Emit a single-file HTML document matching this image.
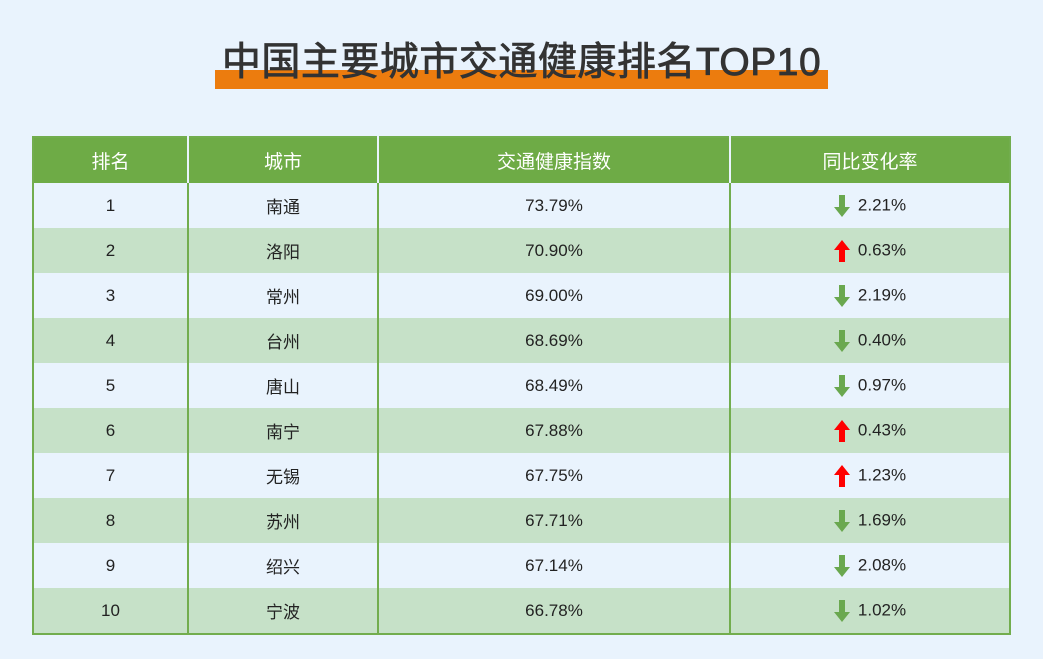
<!DOCTYPE html>
<html><head><meta charset="utf-8"><style>
body{margin:0;width:1043px;height:659px;background:#e9f3fd;font-family:"Liberation Sans","Noto Sans CJK SC",sans-serif;position:relative;overflow:hidden}
.bar{position:absolute;left:215px;top:70px;width:613px;height:19px;background:#ec7c0e}
.title{position:absolute;left:0;width:1043px;top:38px;text-align:center;font-size:39px;font-weight:normal;-webkit-text-stroke:0.8px #333;color:#333;line-height:50px;letter-spacing:0.5px}
table{position:absolute;left:32px;top:136px;width:979px;border-collapse:collapse;border:2px solid #72ad4e}
th{background:#6eab46;color:#fff;font-weight:normal;font-size:19px;height:45px;padding:0;border-left:2px solid #e9f3fd;}
th:first-child{border-left:none}
td{height:45px;padding:0;text-align:center;font-size:17px;color:#222;border-left:2px solid #72ad4e}
td:first-child{border-left:none}
tr:nth-child(odd) td{background:#e9f3fd}
tr:nth-child(even) td{background:#c6e1c8}
.a{display:inline-block;vertical-align:middle;margin-right:8px}
</style></head><body>
<div class="bar"></div>
<div class="title">中国主要城市交通健康排名TOP10</div>
<table>
<colgroup><col style="width:155px"><col style="width:190px"><col style="width:352px"><col></colgroup>
<thead><tr><th>排名</th><th>城市</th><th>交通健康指数</th><th>同比变化率</th></tr></thead>
<tbody>
<tr><td>1</td><td>南通</td><td>73.79%</td><td><svg class="a" width="16" height="22"><path d="M5 0h6v12h5l-8 10-8-10h5z" fill="#6aa84f"/></svg>2.21%</td></tr>
<tr><td>2</td><td>洛阳</td><td>70.90%</td><td><svg class="a" width="16" height="22"><path d="M5 22h6v-12h5l-8-10-8 10h5z" fill="#f00"/></svg>0.63%</td></tr>
<tr><td>3</td><td>常州</td><td>69.00%</td><td><svg class="a" width="16" height="22"><path d="M5 0h6v12h5l-8 10-8-10h5z" fill="#6aa84f"/></svg>2.19%</td></tr>
<tr><td>4</td><td>台州</td><td>68.69%</td><td><svg class="a" width="16" height="22"><path d="M5 0h6v12h5l-8 10-8-10h5z" fill="#6aa84f"/></svg>0.40%</td></tr>
<tr><td>5</td><td>唐山</td><td>68.49%</td><td><svg class="a" width="16" height="22"><path d="M5 0h6v12h5l-8 10-8-10h5z" fill="#6aa84f"/></svg>0.97%</td></tr>
<tr><td>6</td><td>南宁</td><td>67.88%</td><td><svg class="a" width="16" height="22"><path d="M5 22h6v-12h5l-8-10-8 10h5z" fill="#f00"/></svg>0.43%</td></tr>
<tr><td>7</td><td>无锡</td><td>67.75%</td><td><svg class="a" width="16" height="22"><path d="M5 22h6v-12h5l-8-10-8 10h5z" fill="#f00"/></svg>1.23%</td></tr>
<tr><td>8</td><td>苏州</td><td>67.71%</td><td><svg class="a" width="16" height="22"><path d="M5 0h6v12h5l-8 10-8-10h5z" fill="#6aa84f"/></svg>1.69%</td></tr>
<tr><td>9</td><td>绍兴</td><td>67.14%</td><td><svg class="a" width="16" height="22"><path d="M5 0h6v12h5l-8 10-8-10h5z" fill="#6aa84f"/></svg>2.08%</td></tr>
<tr><td>10</td><td>宁波</td><td>66.78%</td><td><svg class="a" width="16" height="22"><path d="M5 0h6v12h5l-8 10-8-10h5z" fill="#6aa84f"/></svg>1.02%</td></tr>
</tbody></table>
</body></html>
